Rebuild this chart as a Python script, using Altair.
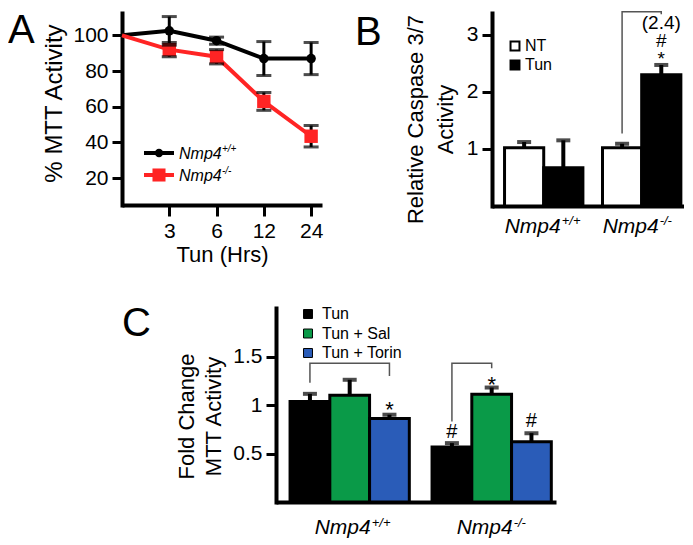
import altair as alt
import pandas as pd

FONT = "Liberation Sans"

# ---------------- Panel A data ----------------
a_hours = ["0", "3", "6", "12", "24"]
a_pos = [0, 1, 2, 3, 4]
a_series = ["Nmp4+/+", "Nmp4-/-"]
a_sup = ["+/+", "-/-"]
a_colors = ["#000000", "#ff2424"]
wt_mean = [100, 102.5, 97, 87, 87]
wt_err = [0, 8, 2, 9.5, 9]
ko_mean = [100, 92, 88, 63, 43.5]
ko_err = [0, 4, 4, 5, 6]

# ---------------- Panel B data ----------------
b_groups = ["Nmp4+/+", "Nmp4-/-"]
b_sup = ["+/+", "-/-"]
b_series = ["NT", "Tun"]
b_nt = [1.02, 1.02]
b_nt_err = [0.10, 0.07]
b_tun = [0.67, 2.30]
b_tun_err = [0.48, 0.17]
b_ann_lines = ["(2.4)", "#", "*"]
b_ann_top = 3.36
b_br_series = ["NT", "NT", "Tun", "Tun"]
b_br_y = [1.27, 3.40, 3.40, 3.36]

# ---------------- Panel C data ----------------
c_series = ["Tun", "Tun + Sal", "Tun + Torin"]
c_colors = ["#000000", "#0a9a48", "#2a5cb8"]
c_wt = [1.035, 1.10, 0.86]
c_wt_err = [0.08, 0.16, 0.04]
c_ko = [0.567, 1.11, 0.62]
c_ko_err = [0.04, 0.07, 0.09]
c_ann_group = ["Nmp4+/+", "Nmp4-/-", "Nmp4-/-", "Nmp4-/-"]
c_ann_series = ["Tun + Torin", "Tun", "Tun + Sal", "Tun + Torin"]
c_ann_text = ["*", "#", "*", "#"]
c_ann_y = [0.95, 0.72, 1.21, 0.84]
c_ann_size = [22, 20, 22, 20]
c_br_id = [0, 0, 0, 0, 1, 1, 1, 1]
c_br_group = ["Nmp4+/+"] * 4 + ["Nmp4-/-"] * 4
c_br_series = ["Tun", "Tun", "Tun + Torin", "Tun + Torin", "Tun", "Tun", "Tun + Sal", "Tun + Sal"]
c_br_y = [1.23, 1.43, 1.43, 1.30, 0.83, 1.43, 1.43, 1.38]

one = pd.DataFrame({"k": [0]})


def yaxis(title, values, tx, ty, lh=30, tsize=22, fmt=None):
    kw = {}
    if fmt:
        kw["format"] = fmt
    return alt.Axis(title=title, values=values, grid=False,
                    domainColor="black", domainWidth=4, domainCap="square",
                    tickColor="black", tickWidth=3, tickSize=10,
                    labelFont=FONT, labelFontSize=21, labelColor="black", labelPadding=4,
                    titleFont=FONT, titleFontSize=tsize, titleFontWeight="normal", titleColor="black",
                    titleX=tx, titleY=ty, titleAlign="center", titleBaseline="middle",
                    titleLineHeight=lh, **kw)


def letter(t, x, y):
    return alt.Chart(one).mark_text(text=t, font=FONT, fontSize=40, align="left",
                                    baseline="top", color="black").encode(
        x=alt.value(x), y=alt.value(y))


def ital(size, align, dx, **kw):
    return dict(font=FONT, fontSize=size, fontStyle="italic", fontWeight="normal",
                align=align, baseline="alphabetic", dx=dx, color="black", **kw)


# ================= Panel A =================
rows = []
for s, m, e in zip(a_series, [wt_mean, ko_mean], [wt_err, ko_err]):
    for p, v, er in zip(a_pos, m, e):
        rows.append({"series": s, "pos": p, "mean": v, "err": er, "lo": v - er, "hi": v + er})
dfa = pd.DataFrame(rows)

AW, AH = 200, 192
label_expr = "[" + ",".join("'%s'" % h for h in a_hours) + "][datum.value]"
xaxisA = alt.Axis(values=a_pos[1:], labelExpr=label_expr, title="Tun (Hrs)", grid=False,
                  domainColor="black", domainWidth=4, domainCap="butt",
                  tickColor="black", tickWidth=3, tickSize=11,
                  labelFont=FONT, labelFontSize=21, labelColor="black", labelPadding=4,
                  labelAngle=0,
                  titleFont=FONT, titleFontSize=22, titleFontWeight="normal", titleColor="black",
                  titleY=56, titleBaseline="alphabetic")
scXA = alt.Scale(domain=[0, 4.23], nice=False, zero=False)
scYA = alt.Scale(domain=[5, 112.5], nice=False, zero=False)
yaxA = yaxis("% MTT Activity", [20, 40, 60, 80, 100], -68, 90, tsize=24)


def XA():
    return alt.X("pos:Q", scale=scXA, axis=xaxisA)


def YA(f):
    return alt.Y(f + ":Q", scale=scYA, axis=yaxA)


colA = alt.Color("series:N", scale=alt.Scale(domain=a_series, range=a_colors), legend=None)
baseA = alt.Chart(dfa)

lineA = baseA.mark_line(strokeWidth=4).encode(x=XA(), y=YA("mean"), color=colA)
errA = baseA.transform_filter("datum.err > 0").mark_rule(color="black", strokeWidth=3).encode(
    x=XA(), y=YA("lo"), y2="hi:Q")
capHiA = baseA.transform_filter("datum.err > 0").mark_tick(
    orient="horizontal", size=15, thickness=3, color="black").encode(x=XA(), y=YA("hi"))
capLoA = baseA.transform_filter("datum.err > 0").mark_tick(
    orient="horizontal", size=15, thickness=3, color="black").encode(x=XA(), y=YA("lo"))
ptWA = baseA.transform_filter(
    "datum.series == '%s' && datum.pos > 0" % a_series[0]).mark_point(
    shape="circle", filled=True, size=90, color=a_colors[0], opacity=1).encode(x=XA(), y=YA("mean"))
ptKA = baseA.transform_filter(
    "datum.series == '%s' && datum.pos > 0" % a_series[1]).mark_point(
    shape="square", filled=True, size=180, color=a_colors[1], opacity=1).encode(x=XA(), y=YA("mean"))

legA = []
for i, (s, sup, col, shp, sz) in enumerate(zip(a_series, a_sup, a_colors, ["circle", "square"], [70, 170])):
    yy = 140 + 22 * i
    legA.append(alt.Chart(one).mark_rule(color=col, strokeWidth=4).encode(
        x=alt.value(22), x2=alt.value(52), y=alt.value(yy)))
    legA.append(alt.Chart(one).mark_point(shape=shp, filled=True, size=sz, color=col, opacity=1).encode(
        x=alt.value(37), y=alt.value(yy)))
    legA.append(alt.Chart(one).mark_text(text="Nmp4", **ital(16, "left", 0)).encode(
        x=alt.value(57), y=alt.value(yy + 6)))
    legA.append(alt.Chart(one).mark_text(text=sup, **ital(10, "left", 0)).encode(
        x=alt.value(100), y=alt.value(yy - 1)))

chartA = alt.layer(errA, lineA, ptWA, ptKA, capHiA, capLoA, *legA,
                   letter("A", -114, -2)).properties(width=AW, height=AH)

# ================= Panel B =================
rowsB = []
for gi, g in enumerate(b_groups):
    rowsB.append({"group": g, "series": "NT", "val": b_nt[gi], "hi": b_nt[gi] + b_nt_err[gi]})
    rowsB.append({"group": g, "series": "Tun", "val": b_tun[gi], "hi": b_tun[gi] + b_tun_err[gi]})
dfb = pd.DataFrame(rowsB)
dfb_ann = pd.DataFrame({"group": [b_groups[1]], "series": ["Tun"],
                        "val": [b_ann_top], "txt": ["\n".join(b_ann_lines)]})
dfb_br = pd.DataFrame({"group": [b_groups[1]] * 4, "series": b_br_series,
                       "val": b_br_y, "ord": [0, 1, 2, 3]})
dfb_lab = pd.DataFrame({"group": b_groups, "sup": b_sup})

BW, BH = 192, 193
xaxB = alt.Axis(title=None, labels=False, ticks=False, domainColor="black", domainWidth=4,
                domainCap="butt", grid=False)
scXB = alt.Scale(domain=b_groups, paddingInner=0.2, paddingOuter=0.08, align=0.8)
scYB = alt.Scale(domain=[0, 3.38], nice=False)
yaxB = yaxis(["Relative Caspase 3/7", "Activity"], [1, 2, 3], -77, 106, lh=30)


def XB():
    return alt.X("group:N", sort=b_groups, scale=scXB, axis=xaxB)


def XOB():
    return alt.XOffset("series:N", sort=b_series,
                       scale=alt.Scale(domain=b_series, paddingInner=0, paddingOuter=0))


def YB():
    return alt.Y("val:Q", scale=scYB, axis=yaxB)


barsB = alt.Chart(dfb).mark_bar(stroke="black", strokeWidth=3).encode(
    x=XB(), xOffset=XOB(), y=YB(),
    fill=alt.Fill("series:N", scale=alt.Scale(domain=b_series, range=["white", "black"]), legend=None))
errB = alt.Chart(dfb).mark_rule(color="black", strokeWidth=4).encode(
    x=XB(), xOffset=XOB(), y=YB(), y2="hi:Q")
capB = alt.Chart(dfb).mark_tick(orient="horizontal", size=14, thickness=4, color="black").encode(
    x=XB(), xOffset=XOB(), y=alt.Y("hi:Q", scale=scYB, axis=yaxB))
brB = alt.Chart(dfb_br).mark_line(color="#555555", strokeWidth=1.5).encode(
    x=XB(), xOffset=XOB(), y=YB(), order="ord:Q")
annB = alt.Chart(dfb_ann).mark_text(font=FONT, fontSize=19, lineHeight=18, lineBreak="\n",
                                    baseline="top", color="black").encode(
    x=XB(), xOffset=XOB(), y=YB(), text="txt:N")
labB = alt.Chart(dfb_lab).mark_text(text="Nmp4", **ital(21, "right", 17)).encode(
    x=XB(), y=alt.value(220))
supB = alt.Chart(dfb_lab).mark_text(**ital(13, "left", 18)).encode(
    x=XB(), y=alt.value(212), text="sup:N")
legB = []
for i, (s, f) in enumerate(zip(b_series, ["white", "black"])):
    yy = 33 + 19 * i
    legB.append(alt.Chart(one).mark_square(size=80, fill=f, stroke="black", strokeWidth=2, opacity=1).encode(
        x=alt.value(23), y=alt.value(yy)))
    legB.append(alt.Chart(one).mark_text(text=s, font=FONT, fontSize=16, align="left",
                                         baseline="middle", color="black").encode(
        x=alt.value(33), y=alt.value(yy)))

chartB = alt.layer(barsB, errB, capB, brB, annB, labB, supB, *legB,
                   letter("B", -137, 0)).properties(width=BW, height=BH)

# ================= Panel C =================
rowsC = []
for g, vals, errs in zip(b_groups, [c_wt, c_ko], [c_wt_err, c_ko_err]):
    for s, v, e in zip(c_series, vals, errs):
        rowsC.append({"group": g, "series": s, "val": v, "hi": v + e})
dfc = pd.DataFrame(rowsC)
dfc_ann = pd.DataFrame({"group": c_ann_group, "series": c_ann_series, "val": c_ann_y,
                        "txt": c_ann_text, "fs": c_ann_size})
dfc_br = pd.DataFrame({"id": c_br_id, "group": c_br_group, "series": c_br_series, "val": c_br_y,
                       "ord": [0, 1, 2, 3, 0, 1, 2, 3]})

CW, CH = 280, 194
xaxC = alt.Axis(title=None, labels=False, ticks=False, domainColor="black", domainWidth=4,
                domainCap="butt", grid=False)
scXC = alt.Scale(domain=b_groups, paddingInner=0.16, paddingOuter=0.066, align=0.75)
scYC = alt.Scale(domain=[0, 2.0], nice=False)
yaxC = yaxis(["Fold Change", "MTT Activity"], [0.5, 1, 1.5], -90, 108, lh=27, fmt=".1~f")


def XC():
    return alt.X("group:N", sort=b_groups, scale=scXC, axis=xaxC)


def XOC():
    return alt.XOffset("series:N", sort=c_series,
                       scale=alt.Scale(domain=c_series, paddingInner=0, paddingOuter=0))


def YC():
    return alt.Y("val:Q", scale=scYC, axis=yaxC)


barsC = alt.Chart(dfc).mark_bar(stroke="black", strokeWidth=3).encode(
    x=XC(), xOffset=XOC(), y=YC(),
    fill=alt.Fill("series:N", scale=alt.Scale(domain=c_series, range=c_colors), legend=None))
errC = alt.Chart(dfc).mark_rule(color="black", strokeWidth=4).encode(
    x=XC(), xOffset=XOC(), y=YC(), y2="hi:Q")
capC = alt.Chart(dfc).mark_tick(orient="horizontal", size=14, thickness=4, color="black").encode(
    x=XC(), xOffset=XOC(), y=alt.Y("hi:Q", scale=scYC, axis=yaxC))
brC = alt.Chart(dfc_br).mark_line(color="#555555", strokeWidth=1.5).encode(
    x=XC(), xOffset=XOC(), y=YC(), detail="id:N", order="ord:Q")
annC = alt.Chart(dfc_ann).mark_text(font=FONT, baseline="middle", color="black").encode(
    x=XC(), xOffset=XOC(), y=YC(), text="txt:N",
    size=alt.Size("fs:Q", scale=None, legend=None))
dfc_lab = pd.DataFrame({"group": b_groups, "sup": b_sup})
labC = alt.Chart(dfc_lab).mark_text(text="Nmp4", **ital(21, "right", 21)).encode(
    x=XC(), y=alt.value(CH + 32))
supC = alt.Chart(dfc_lab).mark_text(**ital(13, "left", 22)).encode(
    x=XC(), y=alt.value(CH + 25), text="sup:N")
legC = []
for i, (s, col) in enumerate(zip(c_series, c_colors)):
    yy = 6 + 19.5 * i
    legC.append(alt.Chart(one).mark_square(size=80, fill=col, stroke="black", strokeWidth=1, opacity=1).encode(
        x=alt.value(32), y=alt.value(yy)))
    legC.append(alt.Chart(one).mark_text(text=s, font=FONT, fontSize=16, align="left",
                                         baseline="middle", color="black").encode(
        x=alt.value(46), y=alt.value(yy)))

chartC = alt.layer(barsC, errC, capC, brC, annC, labC, supC, *legC).properties(width=CW, height=CH)

spacer = letter("C", 0, -4).properties(width=42, height=10)

top = alt.hconcat(chartA, chartB, spacing=32).resolve_scale(fill="independent", xOffset="independent")
bottom = alt.hconcat(spacer, chartC, spacing=10).resolve_scale(fill="independent", xOffset="independent")
chart = (alt.vconcat(top, bottom, spacing=39)
         .resolve_scale(fill="independent", xOffset="independent", color="independent")
         .properties(padding=0)
         .configure_view(stroke=None))

chart.save("out.html", embed_options={"renderer": "svg", "actions": False})
